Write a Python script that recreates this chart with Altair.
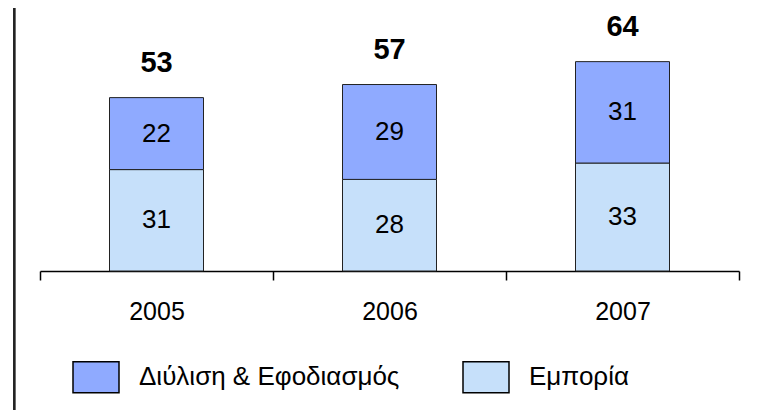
import altair as alt
import pandas as pd

years = ["2005", "2006", "2007"]
series_names = ["Διύλιση & Εφοδιασμός", "Εμπορία"]
diylisi = [22, 29, 31]
emporia = [31, 28, 33]
totals = [53, 57, 64]
colors = ["#8FAAFF", "#C6E0FA"]

rows = []
for i, yr in enumerate(years):
    rows.append({"year": yr, "series": series_names[1], "value": emporia[i],
                 "order": 0, "mid": emporia[i] / 2})
    rows.append({"year": yr, "series": series_names[0], "value": diylisi[i],
                 "order": 1, "mid": emporia[i] + diylisi[i] / 2})
df = pd.DataFrame(rows)
tot_df = pd.DataFrame({"year": years, "total": totals})

FONT = "Liberation Sans"

x_enc = alt.X("year:N", sort=years,
              scale=alt.Scale(paddingInner=0, paddingOuter=0),
              axis=alt.Axis(title=None, labelAngle=0, tickBand="extent",
                            domainColor="#000000", domainWidth=1.5,
                            tickColor="#000000", tickWidth=1.5, tickSize=9,
                            labelFont=FONT, labelFontSize=25, labelColor="#000000",
                            labelPadding=19))
y_scale = alt.Scale(domain=[0, 70])

bars = alt.Chart(df).mark_bar(size=94, stroke="#222222", strokeWidth=1).encode(
    x=x_enc,
    y=alt.Y("value:Q", stack="zero", scale=y_scale, axis=None),
    color=alt.Color("series:N",
                    scale=alt.Scale(domain=series_names, range=colors),
                    legend=alt.Legend(title=None, orient="none", direction="horizontal",
                                      legendX=32, legendY=311, padding=0,
                                      symbolType="M-1,-0.674H1V0.674H-1Z",
                                      symbolSize=2116, symbolStrokeColor="#000000",
                                      symbolStrokeWidth=1.5, symbolOpacity=1,
                                      labelFont=FONT, labelFontSize=26,
                                      labelColor="#000000", labelOffset=19,
                                      labelLimit=600, columnPadding=60)),
    order=alt.Order("order:Q"),
)

inner = alt.Chart(df).mark_text(font=FONT, fontSize=26, color="#000000",
                                baseline="middle").encode(
    x=alt.X("year:N", sort=years),
    y=alt.Y("mid:Q", scale=y_scale),
    text=alt.Text("value:Q"),
)

tops = alt.Chart(tot_df).mark_text(font=FONT, fontSize=29, fontWeight="bold",
                                   color="#000000", baseline="middle", dy=-35).encode(
    x=alt.X("year:N", sort=years),
    y=alt.Y("total:Q", scale=y_scale),
    text=alt.Text("total:Q"),
)

frame = alt.Chart(tot_df).mark_rule(color="#222222", strokeWidth=2).encode(
    x=alt.value(-25.7), y=alt.value(-34), y2=alt.value(368)
)

chart = alt.layer(bars, inner, tops, frame).properties(
    width=699, height=229,
    autosize=alt.AutoSizeParams(type="none"),
    padding={"left": 32, "top": 34, "right": 29, "bottom": 139},
).configure_view(stroke=None)

chart.save("out.html", embed_options={"renderer": "svg", "actions": False})
